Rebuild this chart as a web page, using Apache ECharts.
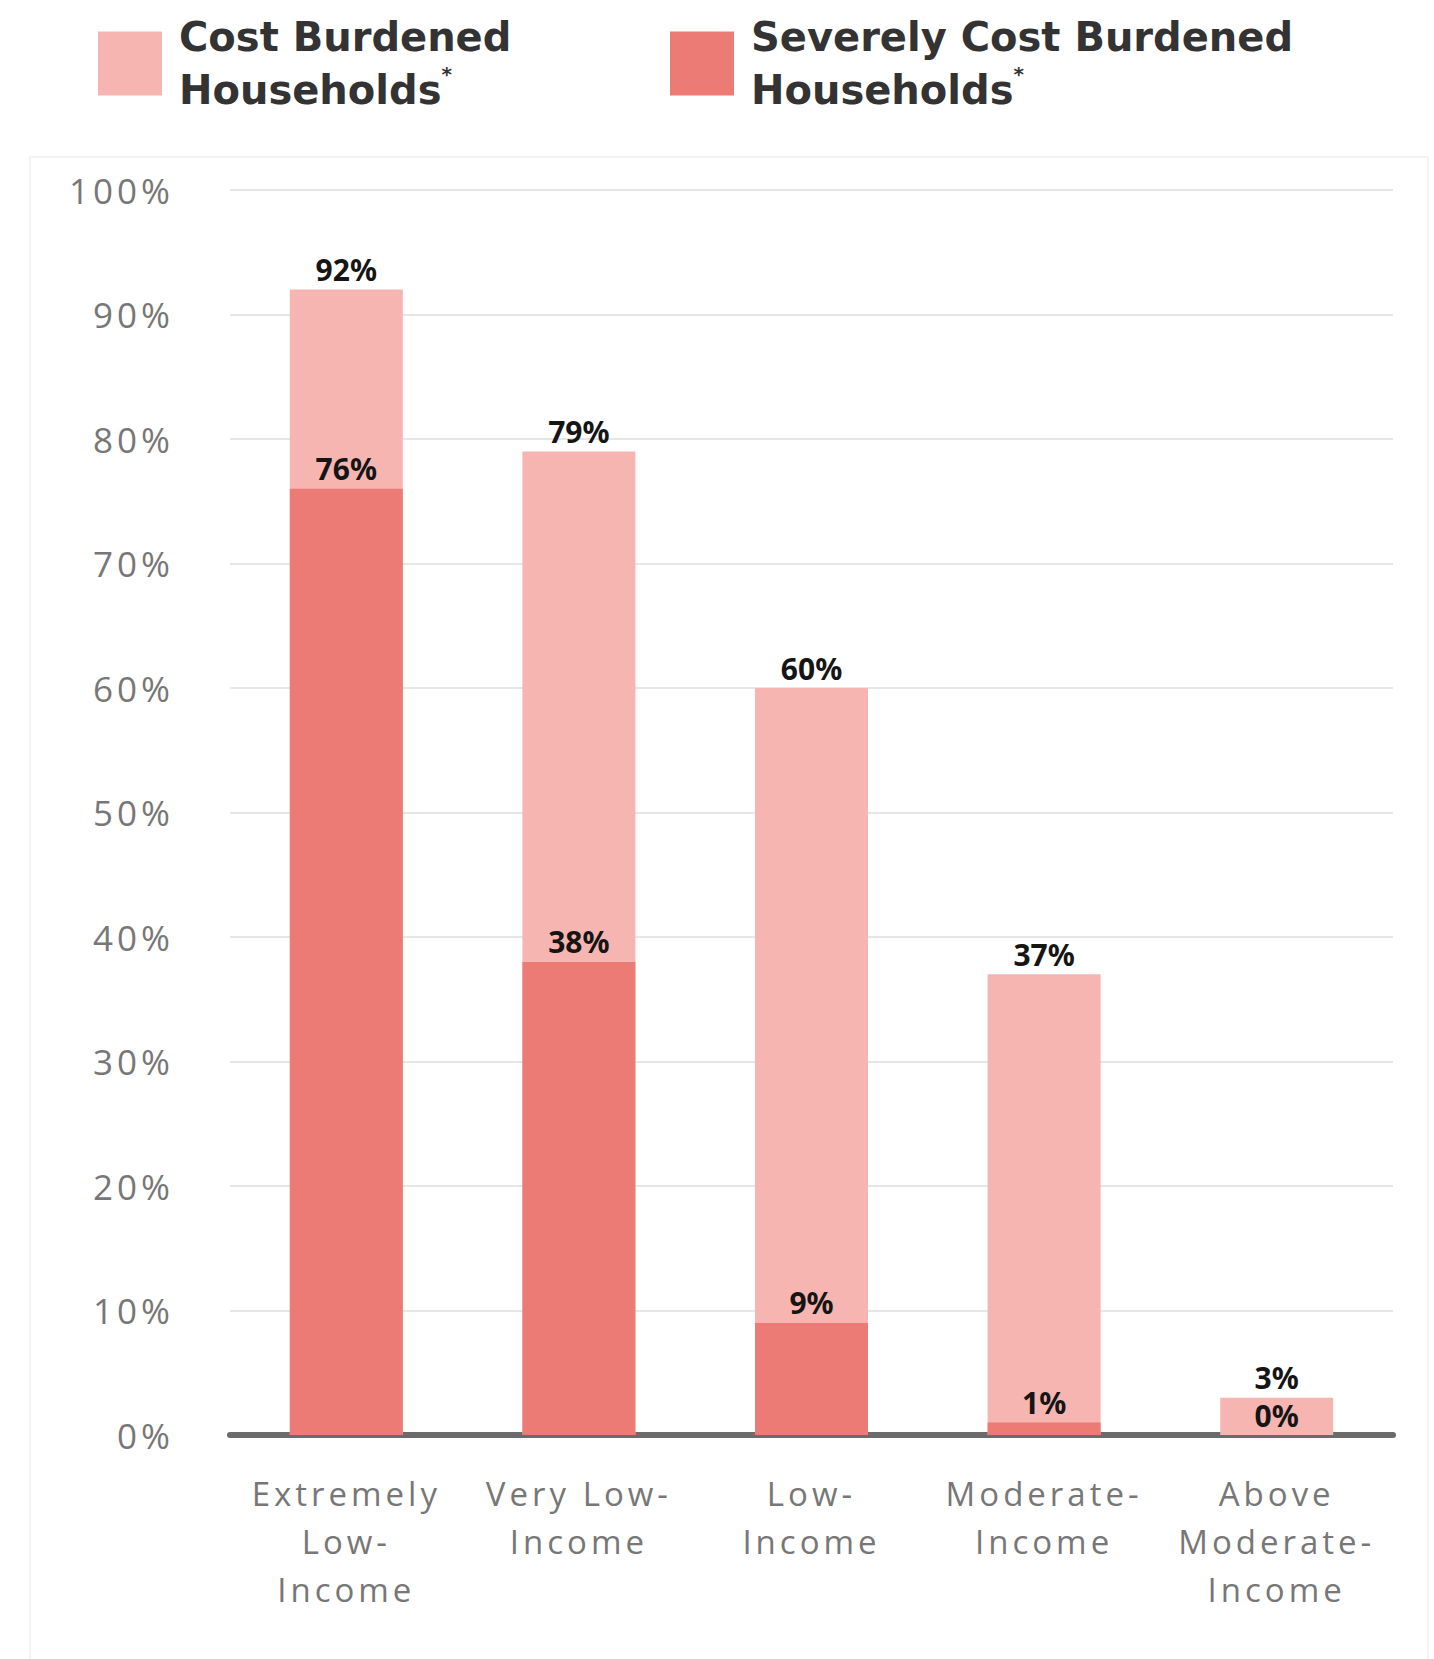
<!DOCTYPE html>
<html>
<head>
<meta charset="utf-8">
<script src="https://cdn.jsdelivr.net/npm/echarts@6/dist/echarts.min.js"></script>
<style>
  html, body { margin: 0; padding: 0; background: #ffffff; }
  #chart { width: 1434px; height: 1659px; }
  /* wide tracking on the axis labels */
  #chart svg text[fill="#777"], #chart svg text[fill="#777777"] { letter-spacing: 4px; }
</style>
</head>
<body>
<div id="chart"></div>
<script>
// Income groups along the x axis
const categories = [
  'Extremely\nLow-\nIncome',
  'Very Low-\nIncome',
  'Low-\nIncome',
  'Moderate-\nIncome',
  'Above\nModerate-\nIncome'
];
// Share of households paying more than 30% of income on housing
const costBurdened = [92, 79, 60, 37, 3];
// Share paying more than 50% of income on housing
const severelyBurdened = [76, 38, 9, 1, 0];
// Y axis range
const yMin = 0, yMax = 100, yStep = 10;

const seriesNames = ['Cost Burdened Households', 'Severely Cost Burdened Households'];
const colors = ['#f7b5b1', '#eb7b74'];

const chart = echarts.init(document.getElementById('chart'), null, { renderer: 'svg' });

const legendFont = '"DejaVu Sans", sans-serif';
const legendText = {
  fontFamily: legendFont,
  fontSize: 40,
  fontWeight: 'bold',
  color: '#333',
  rich: {
    a: { fontFamily: legendFont, fontSize: 40, fontWeight: 'bold', color: '#333', lineHeight: 53, padding: [0, 0, 0, 12] },
    s: { fontFamily: legendFont, fontSize: 20, fontWeight: 'bold', color: '#333', lineHeight: 24, verticalAlign: 'top' }
  }
};

function legendFormatter(name) {
  const words = name.replace(' Households', '');
  return '{a|' + words + '}\n{a|Households}{s|*}';
}

const labelStyle = {
  show: true,
  position: 'top',
  distance: 5,
  formatter: '{c}%',
  fontFamily: '"Noto Sans", sans-serif',
  fontWeight: 700,
  fontSize: 30,
  color: '#151515'
};

chart.setOption({
  animation: false,
  backgroundColor: '#ffffff',
  graphic: [{
    type: 'rect',
    shape: { x: 30, y: 157, width: 1398, height: 1520 },
    style: { fill: 'none', stroke: '#f3f3f3', lineWidth: 2 },
    silent: true,
    z: -10
  }],
  legend: [
    {
      data: [seriesNames[0]],
      left: 93, top: 12,
      itemWidth: 64, itemHeight: 64,
      icon: 'rect',
      selectedMode: false,
      formatter: legendFormatter,
      textStyle: legendText
    },
    {
      data: [seriesNames[1]],
      left: 665, top: 12,
      itemWidth: 64, itemHeight: 64,
      icon: 'rect',
      selectedMode: false,
      formatter: legendFormatter,
      textStyle: legendText
    }
  ],
  grid: { left: 230, right: 41, top: 190, bottom: 224, containLabel: false },
  xAxis: {
    type: 'category',
    data: categories,
    axisTick: { show: false },
    axisLine: { show: true, lineStyle: { color: '#6b6b6b', width: 6 } },
    axisLabel: {
      margin: 34,
      interval: 0,
      color: '#777',
      fontFamily: '"Open Sans", sans-serif',
      fontSize: 33,
      lineHeight: 48,
      verticalAlign: 'top'
    }
  },
  yAxis: {
    type: 'value',
    min: yMin, max: yMax, interval: yStep,
    axisLine: { show: false },
    axisTick: { show: false },
    splitLine: { lineStyle: { color: '#e6e6e6', width: 2 } },
    axisLabel: {
      margin: 56,
      color: '#777',
      fontFamily: '"Open Sans", sans-serif',
      fontSize: 35,
      formatter: '{value}%'
    }
  },
  series: [
    {
      name: seriesNames[0],
      type: 'bar',
      data: costBurdened,
      barWidth: 113,
      barGap: '-100%',
      itemStyle: { color: colors[0] },
      label: labelStyle,
      z: 2
    },
    {
      name: seriesNames[1],
      type: 'bar',
      data: severelyBurdened,
      barWidth: 113,
      barGap: '-100%',
      itemStyle: { color: colors[1] },
      label: labelStyle,
      z: 3
    }
  ]
});
</script>
</body>
</html>
